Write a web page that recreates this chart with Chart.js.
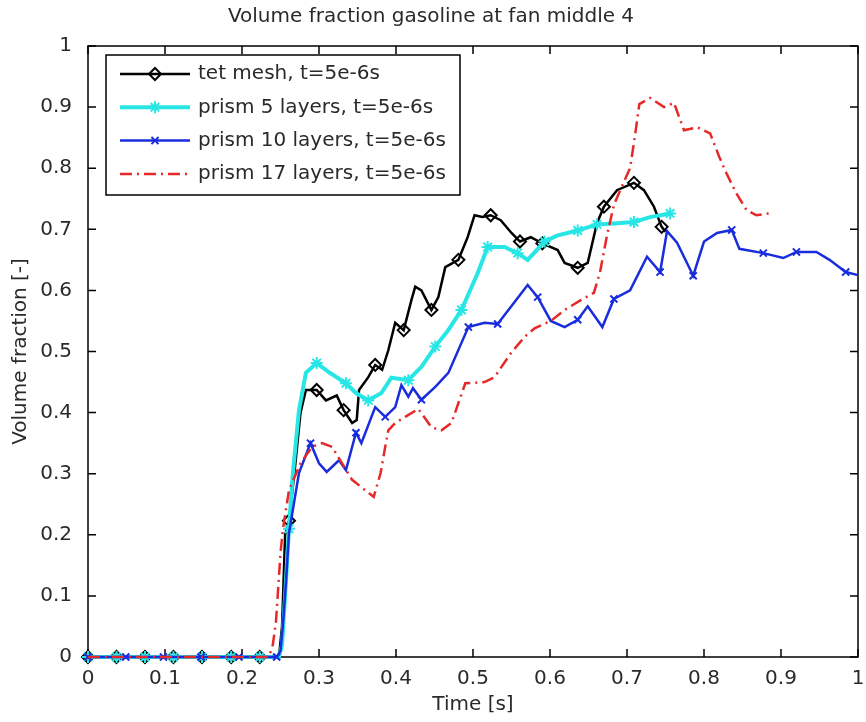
<!DOCTYPE html>
<html>
<head>
<meta charset="utf-8">
<title>Volume fraction gasoline at fan middle 4</title>
<script src="https://cdn.jsdelivr.net/npm/chart.js@4.4.0/dist/chart.umd.min.js"></script>
<style>
    html, body { margin: 0; padding: 0; background: #fff; }
    #volumeChart { display: block; }
</style>
</head>
<body>
<canvas id="volumeChart" width="866" height="722"></canvas>
<script>
// ==========================================
// DATA
// ==========================================

const xTickValues = [0, 0.1, 0.2, 0.3, 0.4, 0.5, 0.6, 0.7, 0.8, 0.9, 1];
const yTickValues = [0, 0.1, 0.2, 0.3, 0.4, 0.5, 0.6, 0.7, 0.8, 0.9, 1];

const seriesLabels = [
    'tet mesh, t=5e-6s',
    'prism 5 layers, t=5e-6s',
    'prism 10 layers, t=5e-6s',
    'prism 17 layers, t=5e-6s'
];

// tet mesh
const tetTime = [0, 0.037, 0.074, 0.111, 0.148, 0.186, 0.223, 0.248, 0.252, 0.256, 0.261, 0.268, 0.276, 0.283,
    0.297, 0.309, 0.323, 0.332, 0.343, 0.349, 0.352, 0.364, 0.373, 0.382, 0.390, 0.399, 0.410, 0.420, 0.425,
    0.433, 0.446, 0.455, 0.464, 0.481, 0.493, 0.502, 0.512, 0.523, 0.536, 0.550, 0.561, 0.575, 0.590, 0.610,
    0.619, 0.636, 0.649, 0.661, 0.670, 0.687, 0.709, 0.722, 0.735, 0.745, 0.750];
const tetValue = [0, 0, 0, 0, 0, 0, 0, 0, 0.05, 0.20, 0.223, 0.30, 0.40, 0.437,
    0.437, 0.420, 0.428, 0.404, 0.383, 0.388, 0.437, 0.458, 0.478, 0.470, 0.502, 0.547, 0.535, 0.584, 0.606,
    0.600, 0.568, 0.589, 0.638, 0.650, 0.687, 0.723, 0.720, 0.723, 0.715, 0.694, 0.680, 0.687, 0.677, 0.666,
    0.645, 0.637, 0.645, 0.710, 0.737, 0.764, 0.776, 0.764, 0.737, 0.704, 0.696];

// prism 5 layers
const prism5Time = [0, 0.037, 0.074, 0.111, 0.148, 0.186, 0.223, 0.248, 0.252, 0.256, 0.261, 0.266, 0.274,
    0.283, 0.297, 0.313, 0.335, 0.348, 0.364, 0.381, 0.394, 0.416, 0.433, 0.451, 0.468, 0.485, 0.506, 0.519,
    0.541, 0.558, 0.571, 0.593, 0.610, 0.636, 0.661, 0.687, 0.709, 0.730, 0.756];
const prism5Value = [0, 0, 0, 0, 0, 0, 0, 0, 0.02, 0.10, 0.21, 0.30, 0.404,
    0.465, 0.481, 0.466, 0.448, 0.432, 0.420, 0.432, 0.457, 0.453, 0.475, 0.508, 0.535, 0.568, 0.628, 0.671,
    0.671, 0.661, 0.650, 0.680, 0.690, 0.698, 0.708, 0.710, 0.712, 0.720, 0.726];

// prism 10 layers
const prism10Time = [0, 0.049, 0.098, 0.147, 0.196, 0.245, 0.250, 0.253, 0.257, 0.261, 0.274, 0.289, 0.300,
    0.310, 0.326, 0.335, 0.348, 0.355, 0.373, 0.386, 0.399, 0.407, 0.416, 0.422, 0.433, 0.451, 0.468, 0.494,
    0.515, 0.532, 0.549, 0.571, 0.584, 0.601, 0.619, 0.636, 0.649, 0.668, 0.683, 0.704, 0.726, 0.743, 0.752,
    0.765, 0.786, 0.800, 0.817, 0.836, 0.846, 0.877, 0.903, 0.920, 0.946, 0.963, 0.984, 1.000];
const prism10Value = [0, 0, 0, 0, 0, 0, 0.01, 0.05, 0.12, 0.203, 0.301, 0.350, 0.317,
    0.303, 0.322, 0.306, 0.367, 0.350, 0.409, 0.393, 0.409, 0.445, 0.426, 0.440, 0.421, 0.442, 0.465, 0.540,
    0.547, 0.545, 0.573, 0.609, 0.589, 0.550, 0.540, 0.552, 0.574, 0.540, 0.586, 0.600, 0.655, 0.630, 0.697,
    0.678, 0.624, 0.680, 0.694, 0.699, 0.668, 0.661, 0.653, 0.663, 0.663, 0.650, 0.630, 0.625];

// prism 17 layers
const prism17Time = [0, 0.235, 0.240, 0.244, 0.250, 0.253, 0.261, 0.276, 0.291, 0.304, 0.317, 0.330, 0.343,
    0.360, 0.371, 0.380, 0.386, 0.390, 0.399, 0.412, 0.429, 0.446, 0.459, 0.472, 0.490, 0.515, 0.528, 0.549,
    0.567, 0.580, 0.601, 0.619, 0.640, 0.657, 0.665, 0.674, 0.683, 0.695, 0.704, 0.710, 0.716, 0.730, 0.748,
    0.761, 0.774, 0.791, 0.808, 0.820, 0.829, 0.842, 0.855, 0.868, 0.885];
const prism17Value = [0, 0, 0.02, 0.056, 0.17, 0.208, 0.273, 0.317, 0.344, 0.350, 0.344, 0.317, 0.290,
    0.273, 0.262, 0.301, 0.344, 0.371, 0.383, 0.393, 0.406, 0.376, 0.371, 0.383, 0.448, 0.450, 0.458, 0.497,
    0.524, 0.538, 0.550, 0.568, 0.584, 0.596, 0.630, 0.690, 0.740, 0.775, 0.800, 0.850, 0.905, 0.915, 0.900,
    0.907, 0.862, 0.867, 0.857, 0.818, 0.792, 0.759, 0.732, 0.723, 0.726];

// ==========================================
// HELPERS
// ==========================================

const FONT = 'DejaVu Sans';
const TEXT_COLOR = '#2a2a2a';
const TICK_LEN = 8;

function toPoints(times, values) {
    return times.map((t, i) => ({ x: t, y: values[i] }));
}

// Matlab puts a marker on every n-th sample; pick the sample nearest to each step
function markerRadius(times, step, radius) {
    const radii = times.map(() => 0);
    const last = times[times.length - 1];
    for (let k = 0; k * step <= last + 1e-9; k++) {
        const target = k * step;
        let best = 0;
        times.forEach((t, i) => {
            if (Math.abs(t - target) < Math.abs(times[best] - target)) best = i;
        });
        if (Math.abs(times[best] - target) < step / 3) radii[best] = radius;
    }
    return radii;
}

// Box round the plot with inward tick marks on all four sides
const frameBox = {
    id: 'frameBox',
    beforeDatasetsDraw(chart) {
        const { ctx, chartArea: a, scales: { x, y } } = chart;
        ctx.save();
        ctx.strokeStyle = '#000';
        ctx.lineWidth = 1.5;
        ctx.strokeRect(a.left, a.top, a.width, a.height);
        ctx.beginPath();
        x.ticks.forEach(t => {
            const px = x.getPixelForValue(t.value);
            ctx.moveTo(px, a.bottom);
            ctx.lineTo(px, a.bottom - TICK_LEN);
            ctx.moveTo(px, a.top);
            ctx.lineTo(px, a.top + TICK_LEN);
        });
        y.ticks.forEach(t => {
            const py = y.getPixelForValue(t.value);
            ctx.moveTo(a.left, py);
            ctx.lineTo(a.left + TICK_LEN, py);
            ctx.moveTo(a.right, py);
            ctx.lineTo(a.right - TICK_LEN, py);
        });
        ctx.stroke();
        ctx.restore();
    }
};

// Matlab style legend box in the upper left corner
const legendBox = {
    id: 'legendBox',
    afterDatasetsDraw(chart) {
        const { ctx, chartArea: a } = chart;
        const box = { x: a.left + 18, y: a.top + 9, w: 354, h: 140 };
        ctx.save();
        ctx.fillStyle = '#fff';
        ctx.fillRect(box.x, box.y, box.w, box.h);
        ctx.strokeStyle = '#000';
        ctx.lineWidth = 1.5;
        ctx.strokeRect(box.x, box.y, box.w, box.h);

        chart.data.datasets.forEach((ds, i) => {
            const cy = box.y + 19 + i * 33.3;
            const x0 = box.x + 14;
            const x1 = box.x + 84;
            ctx.strokeStyle = ds.borderColor;
            ctx.lineWidth = ds.borderWidth;
            ctx.setLineDash(ds.borderDash || []);
            ctx.beginPath();
            ctx.moveTo(x0, cy);
            ctx.lineTo(x1, cy);
            ctx.stroke();
            ctx.setLineDash([]);

            if (ds.pointStyle) {
                ctx.fillStyle = 'rgba(0,0,0,0)';
                ctx.strokeStyle = ds.borderColor;
                ctx.lineWidth = ds.pointBorderWidth;
                Chart.helpers.drawPoint(ctx, {
                    pointStyle: ds.pointStyle,
                    radius: ds.legendRadius,
                    borderWidth: ds.pointBorderWidth,
                    rotation: 0
                }, (x0 + x1) / 2, cy);
            }

            ctx.fillStyle = TEXT_COLOR;
            ctx.font = '20px "' + FONT + '"';
            ctx.textBaseline = 'middle';
            ctx.textAlign = 'left';
            ctx.fillText(ds.label, box.x + 92, cy);
        });
        ctx.restore();
    }
};

// ==========================================
// CHART
// ==========================================

Chart.defaults.font.family = FONT;
Chart.defaults.font.size = 20;
Chart.defaults.color = TEXT_COLOR;

const lineDefaults = {
    fill: false,
    tension: 0,
    clip: 8, // markers sitting on the axes stay whole
    pointBackgroundColor: 'rgba(0,0,0,0)',
    pointBorderWidth: 2,
    pointHoverRadius: 0
};

new Chart(document.getElementById('volumeChart'), {
    type: 'line',
    data: {
        datasets: [
            {
                ...lineDefaults,
                label: seriesLabels[0],
                data: toPoints(tetTime, tetValue),
                borderColor: '#000000',
                pointBorderColor: '#000000',
                borderWidth: 2.5,
                pointStyle: 'rectRot',
                pointRadius: markerRadius(tetTime, 0.0372, 6),
                legendRadius: 6,
                order: 3
            },
            {
                ...lineDefaults,
                label: seriesLabels[1],
                data: toPoints(prism5Time, prism5Value),
                borderColor: 'rgb(40,230,230)',
                pointBorderColor: 'rgb(40,230,230)',
                borderWidth: 4,
                pointStyle: 'star',
                pointRadius: markerRadius(prism5Time, 0.0372, 6),
                legendRadius: 6,
                order: 2
            },
            {
                ...lineDefaults,
                label: seriesLabels[2],
                data: toPoints(prism10Time, prism10Value),
                borderColor: 'rgb(25,45,220)',
                pointBorderColor: 'rgb(25,45,220)',
                borderWidth: 2.5,
                pointStyle: 'crossRot',
                pointRadius: markerRadius(prism10Time, 0.049, 5),
                legendRadius: 5,
                order: 1
            },
            {
                ...lineDefaults,
                label: seriesLabels[3],
                data: toPoints(prism17Time, prism17Value),
                borderColor: 'rgb(230,40,40)',
                borderWidth: 2.5,
                borderDash: [12, 5, 2, 5],
                pointStyle: false,
                pointRadius: 0,
                order: 0
            }
        ]
    },
    options: {
        responsive: false,
        animation: false,
        events: [],
        layout: { padding: { left: 0, right: 4, top: 0, bottom: 0 } },
        plugins: {
            legend: { display: false },
            tooltip: { enabled: false },
            title: {
                display: true,
                text: 'Volume fraction gasoline at fan middle 4',
                color: TEXT_COLOR,
                font: { family: FONT, size: 20, weight: 'normal', lineHeight: 1.2 },
                padding: { top: 5, bottom: 17 }
            }
        },
        scales: {
            x: {
                type: 'linear',
                min: 0,
                max: 1,
                grid: { display: false },
                border: { display: false },
                afterBuildTicks: scale => { scale.ticks = xTickValues.map(v => ({ value: v })); },
                ticks: { padding: 2, maxRotation: 0, color: TEXT_COLOR, callback: v => String(v) },
                title: {
                    display: true,
                    text: 'Time [s]',
                    color: TEXT_COLOR,
                    font: { size: 20, lineHeight: 1.2 },
                    padding: { top: 0, bottom: 5 }
                },
                afterFit: scale => {
                    scale.height = 65;
                    scale.paddingLeft = 0;
                    scale.paddingRight = 0;
                }
            },
            y: {
                type: 'linear',
                min: 0,
                max: 1,
                grid: { display: false },
                border: { display: false },
                afterBuildTicks: scale => { scale.ticks = yTickValues.map(v => ({ value: v })); },
                ticks: { padding: 8, color: TEXT_COLOR, callback: v => String(v) },
                title: {
                    display: true,
                    text: 'Volume fraction [-]',
                    color: TEXT_COLOR,
                    font: { size: 20, lineHeight: 1.2 },
                    padding: { top: 9, bottom: 0 }
                },
                afterFit: scale => {
                    scale.width = 88;
                    scale.paddingTop = 0;
                    scale.paddingBottom = 0;
                }
            }
        }
    },
    plugins: [frameBox, legendBox]
});
</script>
</body>
</html>
